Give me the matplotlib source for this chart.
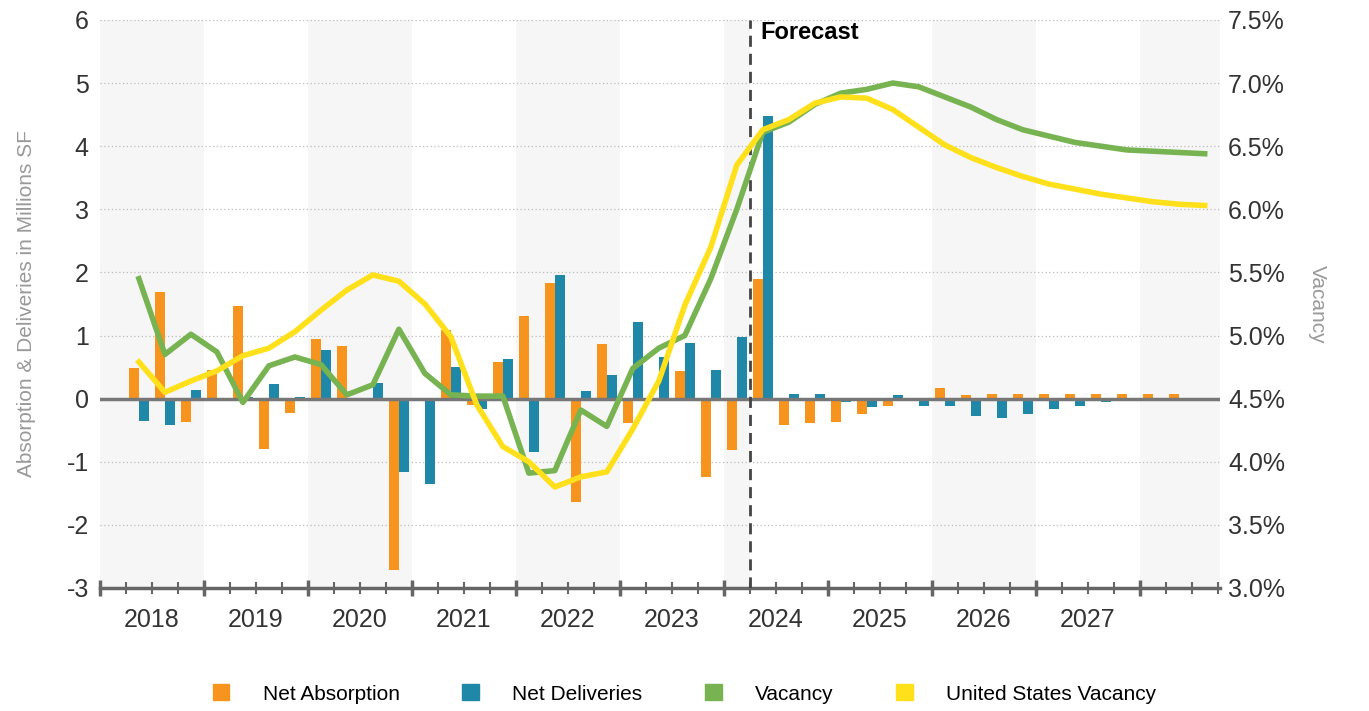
import matplotlib
matplotlib.use("Agg")
import matplotlib.pyplot as plt
from matplotlib.patches import Patch
import numpy as np

plt.rcParams["font.family"] = ["Liberation Sans", "DejaVu Sans"]
plt.rcParams["axes.unicode_minus"] = False

# quarters from 2018Q2 (index 1) to 2028Q3 (index 42)
idx = np.arange(1, 43)
years = [str(y) for y in range(2018, 2028)]

net_absorption = [0.49, 1.69, -0.37, 0.46, 1.46, -0.80, -0.22, 0.95, 0.83, 0.0,
                  -2.72, -0.03, 1.08, -0.10, 0.58, 1.31, 1.83, -1.63, 0.87, -0.38,
                  0.0, 0.44, -1.24, -0.82, 1.90, -0.41, -0.38, -0.37, -0.25, -0.12,
                  0.01, 0.17, 0.06, 0.07, 0.07, 0.07, 0.07, 0.07, 0.07, 0.07,
                  0.07, 0.0]
net_deliveries = [-0.36, -0.42, 0.13, -0.03, 0.02, 0.23, 0.02, 0.77, 0.0, 0.25,
                  -1.16, -1.35, 0.50, -0.16, 0.62, -0.84, 1.96, 0.12, 0.38, 1.22,
                  0.66, 0.88, 0.45, 0.97, 4.47, 0.08, 0.08, -0.05, -0.14, 0.06,
                  -0.12, -0.12, -0.27, -0.31, -0.24, -0.17, -0.12, -0.06, -0.02, -0.01,
                  -0.01, 0.0]
vacancy = [5.45, 4.85, 5.01, 4.87, 4.47, 4.76, 4.83, 4.77, 4.53, 4.61,
           5.05, 4.70, 4.53, 4.52, 4.52, 3.91, 3.93, 4.41, 4.28, 4.74,
           4.90, 5.00, 5.45, 6.00, 6.61, 6.69, 6.83, 6.92, 6.95, 7.00,
           6.97, 6.89, 6.81, 6.71, 6.63, 6.58, 6.53, 6.50, 6.47, 6.46,
           6.45, 6.44]
us_vacancy = [4.79, 4.55, 4.64, 4.72, 4.84, 4.90, 5.03, 5.20, 5.36, 5.48,
              5.43, 5.25, 4.99, 4.45, 4.12, 4.00, 3.80, 3.88, 3.92, 4.26,
              4.64, 5.24, 5.70, 6.35, 6.63, 6.71, 6.84, 6.89, 6.88, 6.79,
              6.65, 6.51, 6.41, 6.33, 6.26, 6.20, 6.16, 6.12, 6.09, 6.06,
              6.04, 6.03]
labels = ["Net Absorption", "Net Deliveries", "Vacancy", "United States Vacancy"]

ORANGE = "#F7941D"
BLUE = "#1F88A8"
GREEN = "#77B451"
YELLOW = "#FFE01B"

fig = plt.figure(figsize=(13.69, 7.11), dpi=100)
ax = fig.add_axes([0.073, 0.173, 0.818, 0.799])
ax2 = ax.twinx()

xmax = 43.08
ax.set_xlim(0, xmax)
ax.set_ylim(-3, 6)
ax2.set_ylim(3.0, 7.5)

# alternating year shading
for k in range(0, 12, 2):
    x0 = 4 * k
    x1 = min(x0 + 4, xmax)
    if k == 6:
        x1 = 25
    ax.axvspan(x0, x1, color="#F6F6F6", zorder=0, lw=0)

for y in range(-2, 7):
    if y != 0:
        ax.axhline(y, color="#BBBBBB", ls=(0, (1, 2)), lw=0.9, zorder=1)

xc = idx + 0.5
w = 0.385
ax.bar(xc - w / 2, net_absorption, w, color=ORANGE, zorder=2)
ax.bar(xc + w / 2, net_deliveries, w, color=BLUE, zorder=2)
ax.axhline(0, color="#777777", lw=2.5, zorder=3)

ax2.plot(xc, vacancy, color=GREEN, lw=4, zorder=4)
ax2.plot(xc, us_vacancy, color=YELLOW, lw=4, zorder=4)

ax.axvline(25, color="#444444", ls=(0, (4, 2.5)), lw=2, zorder=5)
ax.text(25.4, 5.8, "Forecast", fontsize=17, fontweight="bold", va="center", ha="left")

for a in (ax, ax2):
    for s in a.spines.values():
        s.set_visible(False)
ax.spines["bottom"].set_visible(True)
ax.spines["bottom"].set_color("#666666")
ax.spines["bottom"].set_linewidth(2.5)

ax.set_xticks(np.arange(0, 44, 4))
ax.set_xticks(np.arange(0, 44, 1), minor=True)
ax.tick_params(axis="x", which="major", length=12, width=2.5, color="#666666",
               direction="inout", labelbottom=False)
ax.tick_params(axis="x", which="minor", length=8, width=1.5, color="#666666", direction="inout")
for k, yr in enumerate(years):
    ax.text(4 * k + 2, -3.5, yr, ha="center", va="center", fontsize=18, color="#333333")

ax.set_yticks(range(-3, 7))
ax.tick_params(axis="y", length=0, labelsize=18, labelcolor="#333333", pad=8)
ax2.set_yticks(np.arange(3.0, 7.51, 0.5))
ax2.set_yticklabels([f"{v:.1f}%" for v in np.arange(3.0, 7.51, 0.5)])
ax2.tick_params(axis="y", length=0, labelsize=18, labelcolor="#333333", pad=6)

ax.set_ylabel("Absorption & Deliveries in Millions SF", fontsize=15, color="#999999", labelpad=22)
ax2.set_ylabel("Vacancy", fontsize=15, color="#999999", rotation=270, labelpad=30)

handles = [Patch(color=ORANGE), Patch(color=BLUE), Patch(color=GREEN), Patch(color=YELLOW)]
fig.legend(handles, labels, loc="center", bbox_to_anchor=(0.5, 0.024), ncol=4,
           frameon=False, fontsize=15, handlelength=0.8, handleheight=0.8,
           columnspacing=3.0, handletextpad=1.6)

fig.savefig("out.png", dpi=100)
